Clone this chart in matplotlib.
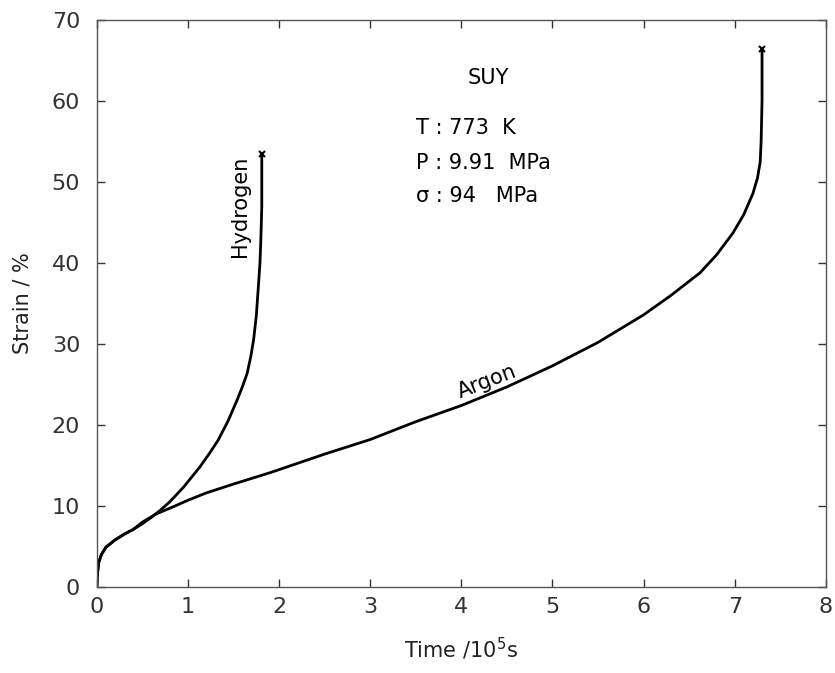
import numpy as np
import matplotlib.pyplot as plt

# creep curves (time in 1e5 s, strain in %)
h2_time = [0, 0.005, 0.02, 0.05, 0.1, 0.2, 0.3, 0.4, 0.5, 0.6, 0.7, 0.8, 0.95, 1.13,
           1.23, 1.33, 1.44, 1.54, 1.6, 1.65, 1.69, 1.72, 1.75, 1.77, 1.79, 1.80, 1.81, 1.81]
h2_strain = [0, 1.5, 3.0, 4.0, 4.9, 5.8, 6.5, 7.1, 7.8, 8.6, 9.5, 10.5, 12.3, 14.8,
             16.4, 18.1, 20.5, 23.1, 24.8, 26.4, 28.5, 30.5, 33.5, 36.7, 40.0, 43.0, 47.0, 53.5]

ar_time = [0, 0.005, 0.02, 0.05, 0.1, 0.2, 0.3, 0.4, 0.5, 0.65, 0.84, 1.0, 1.2, 1.5,
           1.9, 2.5, 3.0, 3.5, 4.0, 4.5, 5.0, 5.5, 6.0, 6.3, 6.62, 6.8, 6.98, 7.1,
           7.2, 7.25, 7.28, 7.29, 7.3, 7.3]
ar_strain = [0, 1.5, 3.0, 4.0, 4.9, 5.8, 6.5, 7.1, 8.0, 9.0, 9.9, 10.7, 11.6, 12.7,
             14.1, 16.4, 18.2, 20.4, 22.4, 24.7, 27.3, 30.2, 33.6, 36.0, 38.8, 41.0, 43.7, 46.0,
             48.6, 50.5, 52.5, 55.0, 60.0, 66.5]

xticks = list(range(0, 9))
yticks = list(range(0, 71, 10))

plt.rcParams['font.family'] = 'DejaVu Sans'

fig = plt.figure(figsize=(8.35, 6.73), dpi=100)
ax = fig.add_axes([0.116, 0.128, 0.873, 0.842])

ax.plot(h2_time, h2_strain, color='black', lw=2.0)
ax.plot(ar_time, ar_strain, color='black', lw=2.0)
ax.plot([h2_time[-1]], [h2_strain[-1]], marker='x', color='black', ms=4, mew=1.5)
ax.plot([ar_time[-1]], [ar_strain[-1]], marker='x', color='black', ms=4, mew=1.5)

ax.set_xlim(0, 8)
ax.set_ylim(0, 70)
ax.set_xticks(xticks)
ax.set_yticks(yticks)
ax.tick_params(direction='in', top=True, right=True, labelsize=16, length=6, width=1, colors='#333333')
ax.tick_params(axis='y', pad=12)
ax.tick_params(axis='x', pad=7)
for s in ax.spines.values():
    s.set_color('#555555')
    s.set_linewidth(1.0)

ax.set_xlabel('Time /10$^5$s', fontsize=15, color='#222222', labelpad=14)
ax.set_ylabel('Strain / %', fontsize=15, color='#222222', labelpad=14)

ax.text(1.57, 47, 'Hydrogen', rotation=90, fontsize=15, ha='center', va='center')
ax.text(4.28, 25.4, 'Argon', rotation=21, fontsize=15, ha='center', va='center')

ax.text(4.3, 62.8, 'SUY', fontsize=15, ha='center', va='center')
ax.text(3.5, 56.7, 'T : 773  K', fontsize=15, ha='left', va='center')
ax.text(3.5, 52.3, 'P : 9.91  MPa', fontsize=15, ha='left', va='center')
ax.text(3.5, 48.3, 'σ : 94   MPa', fontsize=15, ha='left', va='center')

fig.savefig('out.png', dpi=100)
